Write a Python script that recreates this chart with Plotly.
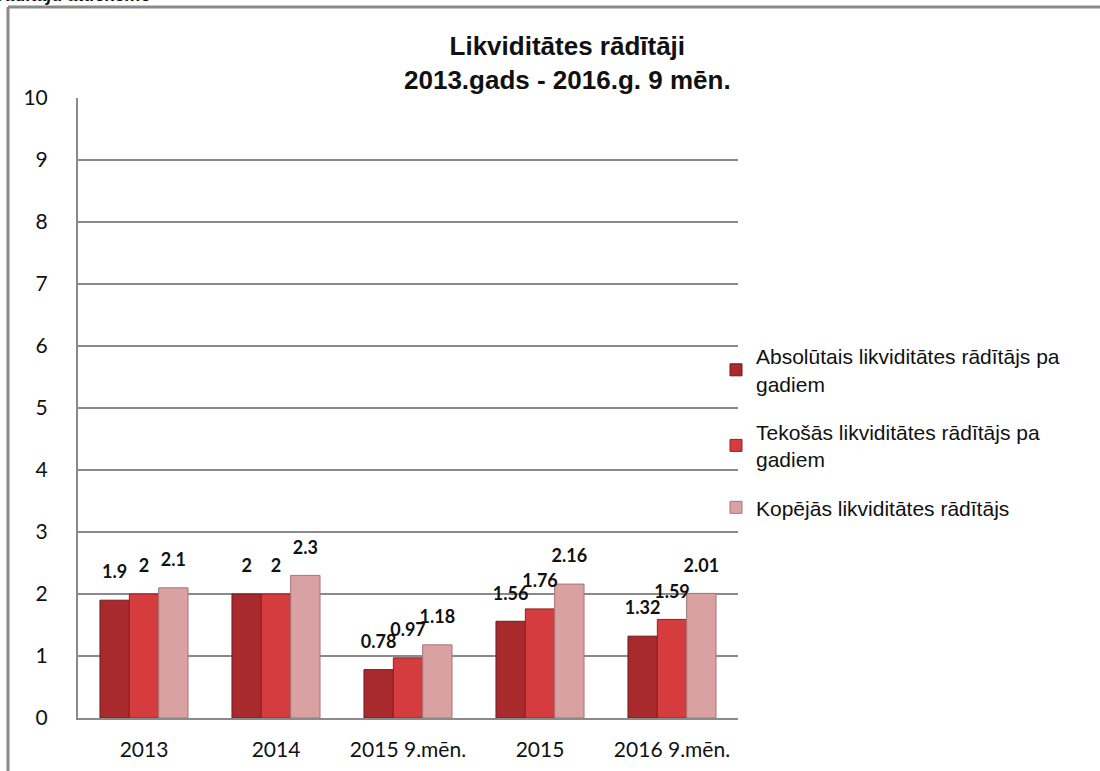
import plotly.graph_objects as go

# ---------------------------------------------------------
# Data
# ---------------------------------------------------------
categories = ["2013", "2014", "2015 9.mēn.", "2015", "2016 9.mēn."]

absolute_ratio = [1.9, 2, 0.78, 1.56, 1.32]
current_ratio = [2, 2, 0.97, 1.76, 1.59]
total_ratio = [2.1, 2.3, 1.18, 2.16, 2.01]

series_names = [
    "Absolūtais likviditātes rādītājs pa<br>gadiem",
    "Tekošās likviditātes rādītājs pa<br>gadiem",
    "Kopējās likviditātes rādītājs",
]
series_values = [absolute_ratio, current_ratio, total_ratio]
series_colors = ["#A82A2C", "#D43C3D", "#D9A1A2"]
series_edges = ["#6E1A1B", "#8E2224", "#A87475"]

y_ticks = list(range(0, 11))

W, H = 1100, 771


def px_x(v):
    return v / W


def px_y(v):
    return 1 - v / H


fig = go.Figure()

for i, (name, vals, col, edge) in enumerate(
        zip(series_names, series_values, series_colors, series_edges)):
    fig.add_trace(
        go.Bar(
            x=categories,
            y=vals,
            name=name,
            legendgroup=f"g{i}",
            marker=dict(color=col, line=dict(color=edge, width=1)),
        )
    )

# value labels, grouped like the bars
for vals in series_values:
    fig.add_trace(
        go.Scatter(
            x=categories,
            y=vals,
            mode="markers+text",
            marker=dict(size=26, opacity=0),
            text=[f"<b>{v:g}</b>" for v in vals],
            textposition="top center",
            textfont=dict(family="Lato, Open Sans, sans-serif",
                          size=18, color="#111111"),
            showlegend=False,
            hoverinfo="skip",
            cliponaxis=False,
        )
    )

fig.update_layout(
    width=W,
    height=H,
    margin=dict(l=0, r=0, t=0, b=0, autoexpand=False),
    paper_bgcolor="white",
    plot_bgcolor="white",
    barmode="group",
    bargap=0.333,
    bargroupgap=0,
    scattermode="group",
    scattergap=0.333,
    xaxis=dict(
        domain=[px_x(78), px_x(738)],
        automargin=False,
        showline=True,
        linecolor="#8a8a8a",
        linewidth=2,
        showgrid=False,
        ticks="",
        ticklabelstandoff=12,
        tickfont=dict(family="Lato, Open Sans, sans-serif",
                      size=21, color="#111111"),
    ),
    yaxis=dict(
        domain=[px_y(718), px_y(98)],
        automargin=False,
        range=[0, 10],
        tickvals=y_ticks,
        showline=True,
        linecolor="#8a8a8a",
        linewidth=2,
        showgrid=True,
        gridcolor="#8a8a8a",
        gridwidth=1.5,
        zeroline=False,
        ticks="",
        ticklabelstandoff=24,
        tickfont=dict(family="Lato, Open Sans, sans-serif",
                      size=21, color="#111111"),
    ),
    legend=dict(
        x=px_x(716),
        y=px_y(336),
        xanchor="left",
        yanchor="top",
        font=dict(family="Liberation Sans, Arial, sans-serif",
                  size=21, color="#111111"),
        tracegroupgap=18,
        itemwidth=30,
        bgcolor="rgba(0,0,0,0)",
    ),
    showlegend=True,
)

# title
fig.add_annotation(
    x=px_x(567),
    y=px_y(97),
    xref="paper",
    yref="paper",
    xanchor="center",
    yanchor="bottom",
    showarrow=False,
    align="center",
    text="<b>Likviditātes rādītāji<br>2013.gads - 2016.g. 9 mēn.</b>",
    font=dict(family="Liberation Sans, Arial, sans-serif",
              size=26, color="#111111"),
)

# heading of the page, mostly cut off by the top edge
fig.add_annotation(
    x=px_x(-4),
    y=px_y(-17),
    xref="paper",
    yref="paper",
    xanchor="left",
    yanchor="top",
    showarrow=False,
    text="<b><i>rādītāju attieksme</i></b>",
    font=dict(family="Liberation Sans, Arial, sans-serif",
              size=18, color="#111111"),
)

# outer frame of the chart object
fig.add_shape(
    type="line", xref="paper", yref="paper",
    x0=px_x(8), x1=px_x(8), y0=px_y(7), y1=0,
    line=dict(color="#8a8a8a", width=3),
)
fig.add_shape(
    type="line", xref="paper", yref="paper",
    x0=px_x(8), x1=1, y0=px_y(7), y1=px_y(7),
    line=dict(color="#8a8a8a", width=3),
)

fig.write_html(
    "out.html",
    config={"displayModeBar": False},
    post_script="document.body.style.margin='0';"
                "document.body.style.overflow='hidden';",
)
